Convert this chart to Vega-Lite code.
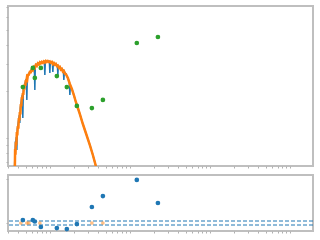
{
  "$schema": "https://vega.github.io/schema/vega-lite/v6.json",
  "padding": {"left": 4, "top": 5, "right": 0, "bottom": 0},
  "background": "white",
  "spacing": 4,
  "config": {
    "view": {"stroke": "#bfbfbf", "strokeWidth": 2},
    "axis": {"labels": false, "domain": false, "grid": false, "ticks": true, "tickSize": 2, "tickColor": "#b0b0b0", "tickWidth": 1, "title": null}
  },
  "datasets": {
    "spec": [
      {"x": 0.36, "y": 0.6}, {"x": 0.372, "y": 0.95}, {"x": 0.376, "y": 0.96}, {"x": 0.3813, "y": 1.015}, {"x": 0.387, "y": 0.837}, {"x": 0.3924, "y": 1.143}, {"x": 0.398, "y": 1.195}, {"x": 0.41, "y": 1.346}, {"x": 0.4158, "y": 1.407}, {"x": 0.4217, "y": 1.25}, {"x": 0.4277, "y": 1.561}, {"x": 0.434, "y": 1.657}, {"x": 0.447, "y": 1.839}, {"x": 0.453, "y": 1.894}, {"x": 0.4597, "y": 1.346}, {"x": 0.4664, "y": 2.025}, {"x": 0.473, "y": 2.102}, {"x": 0.487, "y": 2.231}, {"x": 0.501, "y": 2.367}, {"x": 0.5084, "y": 2.402}, {"x": 0.5158, "y": 1.758}, {"x": 0.5233, "y": 2.494}, {"x": 0.531, "y": 2.55}, {"x": 0.562, "y": 2.666}, {"x": 0.596, "y": 2.787}, {"x": 0.631, "y": 2.871}, {"x": 0.6399, "y": 2.893}, {"x": 0.6494, "y": 2.041}, {"x": 0.6586, "y": 2.936}, {"x": 0.708, "y": 3.024}, {"x": 0.75, "y": 3.07}, {"x": 0.794, "y": 3.093}, {"x": 0.841, "y": 3.116}, {"x": 0.8537, "y": 3.12}, {"x": 0.866, "y": 2.55}, {"x": 0.8786, "y": 3.139}, {"x": 0.944, "y": 3.139}, {"x": 0.9857, "y": 3.12}, {"x": 1.0, "y": 2.627}, {"x": 1.0145, "y": 3.11}, {"x": 1.059, "y": 3.093}, {"x": 1.0746, "y": 3.08}, {"x": 1.0902, "y": 2.666}, {"x": 1.106, "y": 3.06}, {"x": 1.189, "y": 3.002}, {"x": 1.2409, "y": 2.95}, {"x": 1.2589, "y": 2.55}, {"x": 1.2771, "y": 2.92}, {"x": 1.334, "y": 2.871}, {"x": 1.413, "y": 2.787}, {"x": 1.475, "y": 2.73}, {"x": 1.4962, "y": 2.367}, {"x": 1.518, "y": 2.68}, {"x": 1.585, "y": 2.588}, {"x": 1.679, "y": 2.438}, {"x": 1.7532, "y": 2.28}, {"x": 1.7783, "y": 1.894}, {"x": 1.804, "y": 2.18}, {"x": 1.884, "y": 2.071}, {"x": 1.995, "y": 1.894}, {"x": 2.113, "y": 1.707}, {"x": 2.239, "y": 1.561}, {"x": 2.371, "y": 1.428}, {"x": 2.585, "y": 1.231}, {"x": 2.818, "y": 1.077}, {"x": 3.162, "y": 0.901}, {"x": 3.447, "y": 0.777}, {"x": 3.758, "y": 0.66}, {"x": 3.9, "y": 0.62}
    ],
    "model": [
      {"x": 0.365, "y": 0.6}, {"x": 0.368, "y": 0.85}, {"x": 0.372, "y": 0.78}, {"x": 0.376, "y": 0.942}, {"x": 0.381, "y": 0.9}, {"x": 0.387, "y": 1.093}, {"x": 0.392, "y": 1.04}, {"x": 0.398, "y": 1.195}, {"x": 0.404, "y": 1.15}, {"x": 0.41, "y": 1.346}, {"x": 0.416, "y": 1.3}, {"x": 0.422, "y": 1.472}, {"x": 0.428, "y": 1.42}, {"x": 0.434, "y": 1.657}, {"x": 0.44, "y": 1.6}, {"x": 0.447, "y": 1.839}, {"x": 0.453, "y": 1.78}, {"x": 0.46, "y": 1.951}, {"x": 0.466, "y": 1.9}, {"x": 0.473, "y": 2.102}, {"x": 0.48, "y": 2.05}, {"x": 0.487, "y": 2.231}, {"x": 0.494, "y": 2.17}, {"x": 0.501, "y": 2.367}, {"x": 0.508, "y": 2.3}, {"x": 0.516, "y": 2.438}, {"x": 0.523, "y": 2.4}, {"x": 0.531, "y": 2.55}, {"x": 0.546, "y": 2.56}, {"x": 0.562, "y": 2.666}, {"x": 0.579, "y": 2.66}, {"x": 0.596, "y": 2.787}, {"x": 0.613, "y": 2.74}, {"x": 0.631, "y": 2.871}, {"x": 0.649, "y": 2.83}, {"x": 0.668, "y": 2.958}, {"x": 0.688, "y": 2.92}, {"x": 0.708, "y": 3.024}, {"x": 0.73, "y": 2.98}, {"x": 0.75, "y": 3.07}, {"x": 0.77, "y": 3.03}, {"x": 0.794, "y": 3.093}, {"x": 0.817, "y": 3.05}, {"x": 0.841, "y": 3.116}, {"x": 0.866, "y": 3.07}, {"x": 0.891, "y": 3.139}, {"x": 0.917, "y": 3.09}, {"x": 0.944, "y": 3.139}, {"x": 0.972, "y": 3.09}, {"x": 1.0, "y": 3.116}, {"x": 1.03, "y": 3.06}, {"x": 1.059, "y": 3.093}, {"x": 1.09, "y": 3.0}, {"x": 1.122, "y": 3.047}, {"x": 1.155, "y": 2.97}, {"x": 1.189, "y": 3.002}, {"x": 1.224, "y": 2.91}, {"x": 1.259, "y": 2.936}, {"x": 1.296, "y": 2.84}, {"x": 1.334, "y": 2.871}, {"x": 1.373, "y": 2.76}, {"x": 1.413, "y": 2.787}, {"x": 1.455, "y": 2.68}, {"x": 1.496, "y": 2.706}, {"x": 1.54, "y": 2.6}, {"x": 1.585, "y": 2.588}, {"x": 1.679, "y": 2.438}, {"x": 1.778, "y": 2.231}, {"x": 1.884, "y": 2.071}, {"x": 1.995, "y": 1.894}, {"x": 2.113, "y": 1.707}, {"x": 2.239, "y": 1.561}, {"x": 2.371, "y": 1.428}, {"x": 2.585, "y": 1.231}, {"x": 2.818, "y": 1.077}, {"x": 3.162, "y": 0.901}, {"x": 3.447, "y": 0.777}, {"x": 3.758, "y": 0.66}, {"x": 3.9, "y": 0.62}
    ],
    "phot": [
      {"x": 0.46, "y": 2.13}, {"x": 0.613, "y": 2.83}, {"x": 0.649, "y": 2.44}, {"x": 0.772, "y": 2.83}, {"x": 1.223, "y": 2.51}, {"x": 1.63, "y": 2.13}, {"x": 2.175, "y": 1.61}, {"x": 3.35, "y": 1.56}, {"x": 4.6, "y": 1.76}, {"x": 12.2, "y": 4.1}, {"x": 22.4, "y": 4.48}
    ],
    "resid": [
      {"x": 0.46, "r": 0.2}, {"x": 0.613, "r": 0.2}, {"x": 0.649, "r": 0.1}, {"x": 0.772, "r": -0.27}, {"x": 1.223, "r": -0.34}, {"x": 1.63, "r": -0.41}, {"x": 2.175, "r": -0.07}, {"x": 3.35, "r": 1.08}, {"x": 4.6, "r": 1.82}, {"x": 12.2, "r": 2.91}, {"x": 22.4, "r": 1.35}
    ],
    "residmodel": [
      {"x": 0.434, "r": 0}, {"x": 0.516, "r": 0}, {"x": 0.546, "r": 0}, {"x": 0.75, "r": 0}, {"x": 3.35, "r": 0}, {"x": 4.6, "r": 0}
    ],
    "bands": [{"r": 0.135}, {"r": -0.135}]
  },
  "vconcat": [
    {
      "width": 305,
      "height": 160,
      "layer": [
        {"data": {"name": "spec"}, "mark": {"type": "line", "color": "#1f77b4", "strokeWidth": 1.5, "clip": true},
         "encoding": {
          "x": {"field": "x", "type": "quantitative", "scale": {"type": "log", "domain": [0.3, 1940], "nice": false}, "axis": {"values": [0.3,0.4,0.5,0.6,0.7,0.8,0.9,1,2,3,4,5,6,7,8,9,10,20,30,40,50,60,70,80,90,100,200,300,400,500,600,700,800,900,1000]}},
          "y": {"field": "y", "type": "quantitative", "scale": {"type": "log", "domain": [0.66, 7.1], "nice": false}, "axis": {"values": [0.7,0.8,0.9,1,2,3,4,5,6,7]}}
         }},
        {"data": {"name": "model"}, "mark": {"type": "line", "color": "#ff7f0e", "strokeWidth": 2.5, "clip": true},
         "encoding": {"x": {"field": "x", "type": "quantitative"}, "y": {"field": "y", "type": "quantitative"}}},
        {"data": {"name": "phot"}, "mark": {"type": "point", "shape": "circle", "filled": true, "color": "#2ca02c", "size": 22, "opacity": 1},
         "encoding": {"x": {"field": "x", "type": "quantitative"}, "y": {"field": "y", "type": "quantitative"}}}
      ]
    },
    {
      "width": 305,
      "height": 56,
      "layer": [
        {"data": {"name": "bands"}, "mark": {"type": "rule", "color": "#1f77b4", "strokeWidth": 1, "strokeDash": [4, 2]},
         "encoding": {"y": {"field": "r", "type": "quantitative", "scale": {"domain": [-0.54, 3.24], "nice": false, "zero": false}, "axis": {"values": [0, 1, 2, 3]}}}},
        {"data": {"name": "residmodel"}, "mark": {"type": "point", "shape": "circle", "filled": true, "color": "#ff7f0e", "size": 14, "opacity": 0.5},
         "encoding": {
          "x": {"field": "x", "type": "quantitative", "scale": {"type": "log", "domain": [0.3, 1940], "nice": false}, "axis": {"values": [0.3,0.4,0.5,0.6,0.7,0.8,0.9,1,2,3,4,5,6,7,8,9,10,20,30,40,50,60,70,80,90,100,200,300,400,500,600,700,800,900,1000]}},
          "y": {"field": "r", "type": "quantitative"}
         }},
        {"data": {"name": "resid"}, "mark": {"type": "point", "shape": "circle", "filled": true, "color": "#1f77b4", "size": 22, "opacity": 1},
         "encoding": {"x": {"field": "x", "type": "quantitative"}, "y": {"field": "r", "type": "quantitative"}}}
      ]
    }
  ]
}
